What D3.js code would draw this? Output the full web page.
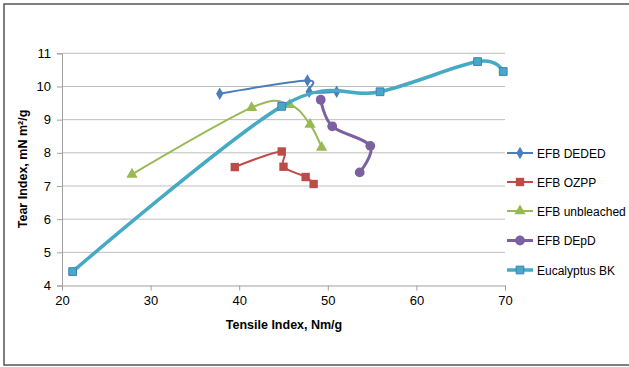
<!DOCTYPE html>
<html>
<head>
<meta charset="utf-8">
<script src="https://cdn.jsdelivr.net/npm/d3@7"></script>
<style>
  body { margin: 0; background: #fff; }
  svg { font-family: "Liberation Sans", Arial, sans-serif; }
</style>
</head>
<body>
<div id="chart"></div>
<script>
// series values: [tensile index, tear index]
const seriesNames = ["EFB DEDED", "EFB OZPP", "EFB unbleached", "EFB DEpD", "Eucalyptus BK"];
const dedED = [[37.8, 9.78], [47.7, 10.18], [47.9, 9.84], [51.0, 9.84]];
const ozpp = [[39.5, 7.57], [44.8, 8.04], [45.0, 7.58], [47.5, 7.27], [48.4, 7.06]];
const unbleached = [[27.9, 7.35], [41.4, 9.36], [45.7, 9.45], [48.0, 8.85], [49.3, 8.16]];
const depd = [[49.2, 9.6], [50.5, 8.8], [54.8, 8.21], [53.6, 7.41]];
const eucalyptus = [[21.2, 4.42], [44.8, 9.4], [55.9, 9.84], [66.9, 10.75], [69.8, 10.45]];
const xTicks = [20, 30, 40, 50, 60, 70];
const yTicks = [4, 5, 6, 7, 8, 9, 10, 11];

const width = 629, height = 367;
const colors = ["#4A7EBB", "#BE4B48", "#98B954", "#7D60A0", "#46AAC5"];
const lineW = [2, 2, 2, 3, 3.5];
const symbols = [d3.symbolDiamond, d3.symbolSquare, d3.symbolTriangle, d3.symbolCircle, d3.symbolSquare];
const symSize = [45, 70, 55, 75, 60];
const allData = [dedED, ozpp, unbleached, depd, eucalyptus];

const x = d3.scaleLinear().domain([20, 70]).range([62, 505]);
const y = d3.scaleLinear().domain([4, 11]).range([285.5, 53.3]);

const svg = d3.select("#chart").append("svg")
    .attr("width", width).attr("height", height);

// outer frame
svg.append("rect")
    .attr("x", 4).attr("y", 4).attr("width", 626).attr("height", 361)
    .attr("fill", "none").attr("stroke", "#555").attr("stroke-width", 1.5);

// gridlines
svg.append("g")
  .selectAll("line")
  .data(yTicks.slice(1))
  .join("line")
    .attr("x1", x(20)).attr("x2", x(70))
    .attr("y1", d => y(d)).attr("y2", d => y(d))
    .attr("stroke", "#BEBEBE").attr("stroke-width", 1);

// axes
const xAxis = svg.append("g")
    .attr("transform", `translate(0,${y(4)})`)
    .call(d3.axisBottom(x).tickValues(xTicks).tickFormat(d3.format("d")).tickSize(5).tickPadding(5));
const yAxis = svg.append("g")
    .attr("transform", `translate(${x(20)},0)`)
    .call(d3.axisLeft(y).tickValues(yTicks).tickFormat(d3.format("d")).tickSize(5).tickPadding(6));
[xAxis, yAxis].forEach(a => {
  a.select(".domain").attr("stroke", "#A0A0A0");
  a.selectAll(".tick line").attr("stroke", "#A0A0A0");
  a.selectAll("text").attr("font-size", 13).attr("fill", "#000")
    .attr("font-family", "Liberation Sans, Arial, sans-serif");
});

// axis titles
svg.append("text")
    .attr("x", 284).attr("y", 329)
    .attr("text-anchor", "middle")
    .attr("font-size", 12.5).attr("font-weight", "bold")
    .text("Tensile Index, Nm/g");
svg.append("text")
    .attr("transform", `translate(27,169) rotate(-90)`)
    .attr("text-anchor", "middle")
    .attr("font-size", 12.5).attr("font-weight", "bold")
    .text("Tear Index, mN m²/g");

const line = d3.line()
    .x(d => x(d[0])).y(d => y(d[1]))
    .curve(d3.curveCardinal.tension(0));

allData.forEach((data, i) => {
  svg.append("path")
      .datum(data)
      .attr("fill", "none")
      .attr("stroke", colors[i])
      .attr("stroke-width", lineW[i])
      .attr("d", line);
  svg.append("g")
    .selectAll("path")
    .data(data)
    .join("path")
      .attr("transform", d => `translate(${x(d[0])},${y(d[1])})`)
      .attr("d", d3.symbol(symbols[i], symSize[i]))
      .attr("fill", colors[i])
      .attr("stroke", i === 4 ? "#3F7EC0" : "none")
      .attr("stroke-width", 1);
});

// legend
const legend = svg.append("g");
const legY = [153, 182, 211, 240.5, 270];
seriesNames.forEach((name, i) => {
  const g = legend.append("g").attr("transform", `translate(0,${legY[i]})`);
  g.append("line")
      .attr("x1", 507).attr("x2", 533)
      .attr("stroke", colors[i]).attr("stroke-width", lineW[i]);
  g.append("path")
      .attr("transform", "translate(520,0)")
      .attr("d", d3.symbol(symbols[i], symSize[i]))
      .attr("fill", colors[i])
      .attr("stroke", i === 4 ? "#3F7EC0" : "none");
  g.append("text")
      .attr("x", 537).attr("y", 4.5)
      .attr("font-size", 12)
      .text(name);
});
</script>
</body>
</html>
